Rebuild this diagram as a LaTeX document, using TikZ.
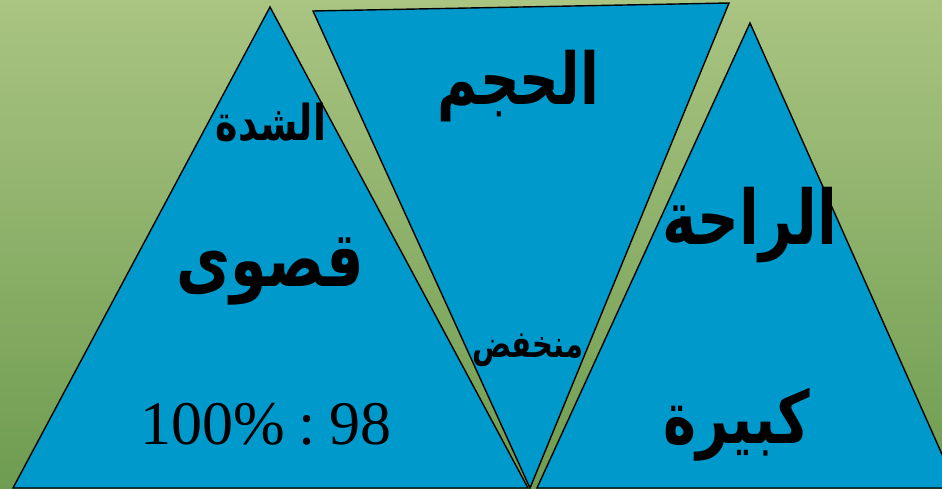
\documentclass[tikz,border=0pt]{standalone}
\usepackage{fontspec}
\usepackage{graphicx}
\setmainfont{Liberation Serif}
\newfontfamily\arabicfont[Script=Arabic]{DejaVu Sans}
\TeXXeTstate=1
\definecolor{bgtop}{RGB}{170,196,130}
\definecolor{bgbot}{RGB}{110,156,80}
\definecolor{triblue}{RGB}{0,153,204}
\tikzset{
  tri/.style={draw=black, line width=1.4pt, fill=triblue, line join=miter},
  artext/.style={text=black, inner sep=0pt, font=\arabicfont\bfseries},
}
\newcommand{\ar}[2]{\scalebox{1}[1.3]{\fontsize{#1}{#1}\selectfont\beginR #2\endR}}
\begin{document}
\begin{tikzpicture}[x=1pt,y=-1pt]
\useasboundingbox (0,0) rectangle (942,489);
\clip (0,0) rectangle (942,489);
\shade[top color=bgtop, bottom color=bgbot] (0,0) rectangle (942,489);
% triangles
\draw[tri] (270,7) -- (528,488) -- (13,488) -- cycle;
\draw[tri] (313,11) -- (729,3) -- (530,488) -- cycle;
\draw[tri] (750,23) -- (957,488) -- (537,488) -- cycle;
% texts
\node[artext] (shidda) at (271,122) {\ar{38}{الشدة}};
\node[artext] (qaswa) at (270,272) {\ar{59}{قصوى}};
\node[inner sep=0pt, font=\fontsize{62}{62}\selectfont] (pct) at (266,424) {100\%\hspace{14pt}:\hspace{14pt}98};
\node[artext] (hajm) at (518,86) {\ar{55}{الحجم}};
\node[artext] (mun) at (528,350) {\ar{29}{منخفض}};
\node[artext] (raha) at (750,225) {\ar{58}{الراحة}};
\node[artext] (kabira) at (737,425) {\ar{56}{كبيرة}};
\end{tikzpicture}
\end{document}
